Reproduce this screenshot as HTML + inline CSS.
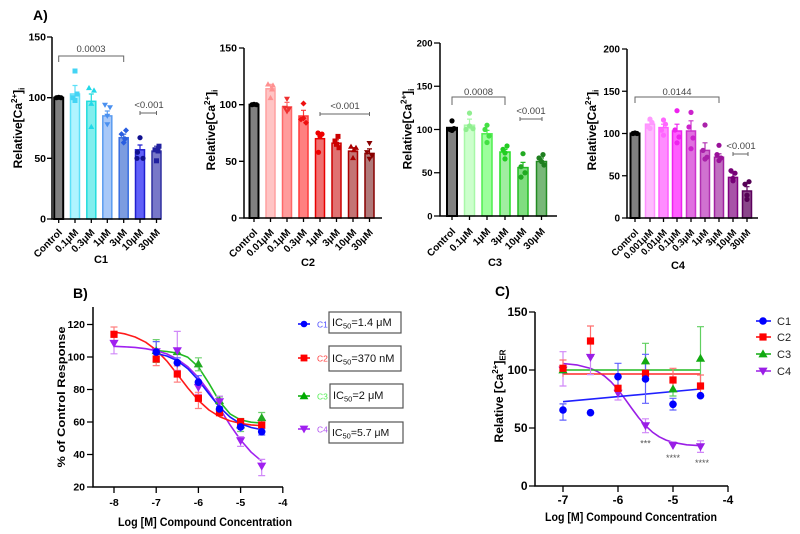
<!DOCTYPE html>
<html><head><meta charset="utf-8"><style>
html,body{margin:0;padding:0;background:#fff;}
svg{display:block;}
text{font-family:"Liberation Sans",Arial,sans-serif;}
.b{font-weight:bold;fill:#000;}
.p{font-size:9.5px;fill:#444;}
.xl{font-weight:bold;font-size:10px;fill:#000;}
.xl4{font-weight:bold;font-size:9.5px;fill:#000;}
</style></head><body>
<svg width="800" height="534" viewBox="0 0 800 534" xmlns="http://www.w3.org/2000/svg" xmlns:xlink="http://www.w3.org/1999/xlink">
<defs>
<circle id="mc" r="3.8"/>
<rect id="ms" x="-3.6" y="-3.6" width="7.2" height="7.2"/>
<path id="mt" d="M0,-4.6L4.6,3.4L-4.6,3.4Z"/>
<path id="md" d="M-4.6,-3.4L4.6,-3.4L0,4.6Z"/>
<circle id="pc" r="2.6"/>
<rect id="ps" x="-2.5" y="-2.5" width="5" height="5"/>
<path id="pt" d="M0,-3L3,2.2L-3,2.2Z"/>
<path id="pd" d="M-3,-2.2L3,-2.2L0,3Z"/>
<path id="pdi" d="M0,-3L3,0L0,3L-3,0Z"/>
</defs>

<!-- ================= PANEL A : C1 ================= -->
<text x="33" y="20" class="b" font-size="14">A)</text>
<g stroke-width="1.5">
<rect x="54.2" y="97.7" width="9" height="121.3" fill="#808080" stroke="#000" stroke-width="2"/>
<rect x="70.5" y="94" width="9" height="125" fill="#b0f4ff" stroke="#5ce0f8"/>
<rect x="86.8" y="101.3" width="9" height="117.7" fill="#80eeee" stroke="#22dcdc"/>
<rect x="102.8" y="115.9" width="9" height="103.1" fill="#a8c8f8" stroke="#5a9cf0"/>
<rect x="119.2" y="137.7" width="9" height="81.3" fill="#7c9ce0" stroke="#3a6ee0"/>
<rect x="135.5" y="149.8" width="9" height="69.2" fill="#6060f8" stroke="#2020d0"/>
<rect x="152" y="151.1" width="9" height="67.9" fill="#7878c8" stroke="#3030a0"/>
</g>
<g stroke-width="1.2" fill="none">
<path d="M75,94V85.5M72.5,85.5H77.5" stroke="#5ce0f8"/>
<path d="M91.3,101.3V94M88.8,94H93.8" stroke="#22dcdc"/>
<path d="M107.3,115.9V111M104.8,111H109.8" stroke="#5a9cf0"/>
<path d="M123.7,137.7V134.1M121.2,134.1H126.2" stroke="#3a6ee0"/>
<path d="M140,149.8V145M137.5,145H142.5" stroke="#2020d0"/>
<path d="M156.5,151.1V146.2M154,146.2H159" stroke="#3030a0"/>
</g>
<g fill="#000"><use xlink:href="#pc" x="56.5" y="97.7"/><use xlink:href="#pc" x="58.7" y="97.3"/><use xlink:href="#pc" x="61" y="97.7"/></g>
<g fill="#44d4f4"><use xlink:href="#ps" x="75" y="71"/><use xlink:href="#ps" x="73" y="97.7"/><use xlink:href="#ps" x="77" y="94"/><use xlink:href="#ps" x="75" y="100.5"/></g>
<g fill="#22d8e8"><use xlink:href="#pt" x="89" y="87.9"/><use xlink:href="#pt" x="94" y="90.4"/><use xlink:href="#pt" x="91.3" y="103.7"/><use xlink:href="#pt" x="91.3" y="126.8"/></g>
<g fill="#4a90f0"><use xlink:href="#pd" x="105" y="104.9"/><use xlink:href="#pd" x="110" y="107.4"/><use xlink:href="#pd" x="107.3" y="115.9"/><use xlink:href="#pd" x="107.3" y="124.4"/></g>
<g fill="#2a5ee0"><use xlink:href="#pdi" x="126" y="130.4"/><use xlink:href="#pdi" x="121.5" y="134.1"/><use xlink:href="#pdi" x="123.7" y="142.6"/><use xlink:href="#pdi" x="125" y="139"/></g>
<g fill="#101090"><use xlink:href="#pc" x="140" y="137.7"/><use xlink:href="#pc" x="137.5" y="152.3"/><use xlink:href="#pc" x="137" y="158.3"/><use xlink:href="#pc" x="143" y="158.3"/></g>
<g fill="#2020a0"><use xlink:href="#ps" x="159" y="146.2"/><use xlink:href="#ps" x="155" y="149.8"/><use xlink:href="#ps" x="156.5" y="160.8"/><use xlink:href="#ps" x="158" y="151"/></g>
<path d="M52,37V219H161" stroke="#000" stroke-width="1.5" fill="none"/>
<path d="M47,37H52M47,97.7H52M47,158.3H52M47,219H52M58.7,219V223M75,219V223M91.3,219V223M107.3,219V223M123.7,219V223M140,219V223M156.5,219V223" stroke="#000" stroke-width="1.3"/>
<g class="b" font-size="10.5" text-anchor="end"><text x="46" y="40.5">150</text><text x="46" y="101.2">100</text><text x="46" y="161.8">50</text><text x="46" y="222.5">0</text></g>
<text transform="translate(22,128) rotate(-90)" text-anchor="middle" class="b" font-size="12">Relative[Ca<tspan font-size="8" dy="-5">2+</tspan><tspan dy="5">]</tspan><tspan font-size="8" dy="2.5">i</tspan></text>
<path d="M58.7,62V56H123.7V62" stroke="#666" fill="none" stroke-width="1"/>
<text x="91" y="52" class="p" text-anchor="middle">0.0003</text>
<text x="149" y="108" class="p" text-anchor="middle">&lt;0.001</text>
<path d="M140,113H156.5M140,111V115M156.5,111V115" stroke="#666" stroke-width="1"/>
<g class="xl" text-anchor="end">
<text transform="translate(62.7,233) rotate(-45)">Control</text>
<text transform="translate(79,233) rotate(-45)">0.1μM</text>
<text transform="translate(95.3,233) rotate(-45)">0.3μM</text>
<text transform="translate(111.3,233) rotate(-45)">1μM</text>
<text transform="translate(127.7,233) rotate(-45)">3μM</text>
<text transform="translate(144,233) rotate(-45)">10μM</text>
<text transform="translate(160.5,233) rotate(-45)">30μM</text>
</g>
<text x="101" y="263" text-anchor="middle" class="b" font-size="11">C1</text>

<!-- ================= PANEL A : C2 ================= -->
<g stroke-width="1.5">
<rect x="249.5" y="104.7" width="9" height="113.3" fill="#808080" stroke="#000" stroke-width="2"/>
<rect x="266" y="88.8" width="9" height="129.2" fill="#ffc4c4" stroke="#ffa0a0"/>
<rect x="282.5" y="106.9" width="9" height="111.1" fill="#ff9c9c" stroke="#ff6868"/>
<rect x="299" y="116" width="9" height="102" fill="#ff8080" stroke="#ff3a3a"/>
<rect x="315.5" y="138.7" width="9" height="79.3" fill="#f07070" stroke="#e80000"/>
<rect x="332" y="143.2" width="9" height="74.8" fill="#e07272" stroke="#cc0000"/>
<rect x="348.5" y="151.1" width="9" height="66.9" fill="#c47474" stroke="#aa0000"/>
<rect x="365" y="153.4" width="9" height="64.6" fill="#b07a7a" stroke="#880000"/>
</g>
<g stroke-width="1.2" fill="none">
<path d="M270.5,88.8V84.3M268,84.3H273" stroke="#ffa0a0"/>
<path d="M287,106.9V102.4M284.5,102.4H289.5" stroke="#ff6868"/>
<path d="M303.5,116V110.3M301,110.3H306" stroke="#ff3a3a"/>
<path d="M320,138.7V135.3M317.5,135.3H322.5" stroke="#e80000"/>
<path d="M336.5,143.2V139.8M334,139.8H339" stroke="#cc0000"/>
<path d="M353,151.1V147.7M350.5,147.7H355.5" stroke="#aa0000"/>
<path d="M369.5,153.4V148.9M367,148.9H372" stroke="#880000"/>
</g>
<g fill="#000"><use xlink:href="#pc" x="252" y="104.7"/><use xlink:href="#pc" x="254" y="104.3"/><use xlink:href="#pc" x="256.5" y="104.7"/></g>
<g fill="#ff9090"><use xlink:href="#pt" x="268" y="84.3"/><use xlink:href="#pt" x="273" y="85.4"/><use xlink:href="#pt" x="270.5" y="97.9"/><use xlink:href="#pt" x="272" y="89.3"/></g>
<g fill="#ee3030"><use xlink:href="#pd" x="287" y="99"/><use xlink:href="#pd" x="285" y="108"/><use xlink:href="#pd" x="289" y="109"/><use xlink:href="#pd" x="287" y="111.5"/></g>
<g fill="#ee1010"><use xlink:href="#pdi" x="303.5" y="103.5"/><use xlink:href="#pdi" x="301" y="119.4"/><use xlink:href="#pdi" x="306" y="122.8"/><use xlink:href="#pdi" x="303.5" y="118.3"/></g>
<g fill="#ee0000"><use xlink:href="#pc" x="318" y="133"/><use xlink:href="#pc" x="322" y="134.1"/><use xlink:href="#pc" x="320" y="136.4"/><use xlink:href="#pc" x="318.5" y="152.3"/></g>
<g fill="#cc0000"><use xlink:href="#ps" x="338" y="136.4"/><use xlink:href="#ps" x="335" y="141"/><use xlink:href="#ps" x="336.5" y="144.3"/><use xlink:href="#ps" x="339" y="147.7"/></g>
<g fill="#aa0000"><use xlink:href="#pt" x="351" y="146.6"/><use xlink:href="#pt" x="356" y="147.7"/><use xlink:href="#pt" x="353" y="157.9"/><use xlink:href="#pt" x="354" y="150"/></g>
<g fill="#880000"><use xlink:href="#pd" x="369.5" y="143.2"/><use xlink:href="#pd" x="367" y="152.3"/><use xlink:href="#pd" x="372" y="155.7"/><use xlink:href="#pd" x="369.5" y="159"/></g>
<path d="M244,48V218H382" stroke="#000" stroke-width="1.5" fill="none"/>
<path d="M239,48H244M239,104.7H244M239,161.3H244M239,218H244M254,218V222M270.5,218V222M287,218V222M303.5,218V222M320,218V222M336.5,218V222M353,218V222M369.5,218V222" stroke="#000" stroke-width="1.3"/>
<g class="b" font-size="10.5" text-anchor="end"><text x="237" y="51.5">150</text><text x="237" y="108.2">100</text><text x="237" y="164.8">50</text><text x="237" y="221.5">0</text></g>
<text transform="translate(215,130) rotate(-90)" text-anchor="middle" class="b" font-size="12">Relative[Ca<tspan font-size="8" dy="-5">2+</tspan><tspan dy="5">]</tspan><tspan font-size="8" dy="2.5">i</tspan></text>
<text x="345" y="109" class="p" text-anchor="middle">&lt;0.001</text>
<path d="M320,114H369.5M320,112V116M369.5,112V116" stroke="#666" stroke-width="1"/>
<g class="xl" text-anchor="end">
<text transform="translate(258,233) rotate(-45)">Control</text>
<text transform="translate(274.5,233) rotate(-45)">0.01μM</text>
<text transform="translate(291,233) rotate(-45)">0.1μM</text>
<text transform="translate(307.5,233) rotate(-45)">0.3μM</text>
<text transform="translate(324,233) rotate(-45)">1μM</text>
<text transform="translate(340.5,233) rotate(-45)">3μM</text>
<text transform="translate(357,233) rotate(-45)">10μM</text>
<text transform="translate(373.5,233) rotate(-45)">30μM</text>
</g>
<text x="308" y="266" text-anchor="middle" class="b" font-size="11">C2</text>

<!-- ================= PANEL A : C3 ================= -->
<g stroke-width="1.5">
<rect x="447" y="127.8" width="10" height="88.2" fill="#808080" stroke="#000" stroke-width="2"/>
<rect x="464.5" y="125.2" width="10" height="90.8" fill="#ccffcc" stroke="#a8f8a8"/>
<rect x="482" y="133.8" width="10" height="82.2" fill="#9cff9c" stroke="#50ee50"/>
<rect x="500" y="152" width="10" height="64" fill="#a0eea0" stroke="#22dd22"/>
<rect x="518" y="167.6" width="10" height="48.4" fill="#80dd80" stroke="#22bb22"/>
<rect x="536.5" y="161.5" width="10" height="54.5" fill="#78b878" stroke="#228b22"/>
</g>
<g stroke-width="1.2" fill="none">
<path d="M469.5,125.2V119.1M467,119.1H472" stroke="#a8f8a8"/>
<path d="M487,133.8V130.4M484.5,130.4H489.5" stroke="#50ee50"/>
<path d="M505,152V149.4M502.5,149.4H507.5" stroke="#22dd22"/>
<path d="M523,167.6V162.4M520.5,162.4H525.5" stroke="#22bb22"/>
<path d="M541.5,161.5V158M539,158H544" stroke="#228b22"/>
</g>
<g fill="#000"><use xlink:href="#pc" x="452" y="120.9"/><use xlink:href="#pc" x="450" y="129.5"/><use xlink:href="#pc" x="454" y="128.6"/><use xlink:href="#pc" x="452" y="130.4"/></g>
<g fill="#90ee90"><use xlink:href="#pc" x="469.5" y="113.1"/><use xlink:href="#pc" x="466" y="129.5"/><use xlink:href="#pc" x="473" y="128.6"/><use xlink:href="#pc" x="469.5" y="126"/></g>
<g fill="#44e044"><use xlink:href="#pc" x="487" y="125.2"/><use xlink:href="#pc" x="485" y="129.5"/><use xlink:href="#pc" x="489" y="136"/><use xlink:href="#pc" x="487" y="142.5"/></g>
<g fill="#22cc22"><use xlink:href="#pc" x="507" y="146"/><use xlink:href="#pc" x="503" y="149.4"/><use xlink:href="#pc" x="505" y="152.9"/><use xlink:href="#pc" x="505" y="158.9"/></g>
<g fill="#22aa22"><use xlink:href="#pc" x="523" y="153.7"/><use xlink:href="#pc" x="521" y="166.7"/><use xlink:href="#pc" x="525" y="172.75"/><use xlink:href="#pc" x="521" y="177.1"/></g>
<g fill="#1f7f1f"><use xlink:href="#pc" x="543" y="154.6"/><use xlink:href="#pc" x="539" y="158"/><use xlink:href="#pc" x="541.5" y="161.5"/><use xlink:href="#pc" x="544" y="165"/></g>
<path d="M440,43V216H557" stroke="#000" stroke-width="1.5" fill="none"/>
<path d="M434,43H440M434,86.25H440M434,129.5H440M434,172.75H440M434,216H440M452,216V220M469.5,216V220M487,216V220M505,216V220M523,216V220M541.5,216V220" stroke="#000" stroke-width="1.3"/>
<g class="b" font-size="9.5" text-anchor="end"><text x="432.5" y="46.5">200</text><text x="432.5" y="89.7">150</text><text x="432.5" y="133">100</text><text x="432.5" y="176.2">50</text><text x="432.5" y="219.5">0</text></g>
<text transform="translate(411.5,129) rotate(-90)" text-anchor="middle" class="b" font-size="12">Relative[Ca<tspan font-size="8" dy="-5">2+</tspan><tspan dy="5">]</tspan><tspan font-size="8" dy="2.5">i</tspan></text>
<path d="M452,105V97H505V105" stroke="#666" fill="none" stroke-width="1"/>
<text x="478.5" y="95" class="p" text-anchor="middle">0.0008</text>
<text x="531" y="114" class="p" text-anchor="middle">&lt;0.001</text>
<path d="M520,119H542M520,117V121M542,117V121" stroke="#666" stroke-width="1"/>
<g class="xl" text-anchor="end">
<text transform="translate(456,232) rotate(-45)">Control</text>
<text transform="translate(473.5,232) rotate(-45)">0.1μM</text>
<text transform="translate(491,232) rotate(-45)">1μM</text>
<text transform="translate(509,232) rotate(-45)">3μM</text>
<text transform="translate(527,232) rotate(-45)">10μM</text>
<text transform="translate(545.5,232) rotate(-45)">30μM</text>
</g>
<text x="495" y="266" text-anchor="middle" class="b" font-size="11">C3</text>

<!-- ================= PANEL A : C4 ================= -->
<g stroke-width="1.5">
<rect x="630.5" y="133.5" width="9" height="84.5" fill="#808080" stroke="#000" stroke-width="2"/>
<rect x="645.5" y="124.2" width="9" height="93.8" fill="#ffbcff" stroke="#ff90ff"/>
<rect x="659" y="127.6" width="9" height="90.4" fill="#ff8cff" stroke="#ff5cff"/>
<rect x="672.5" y="131" width="9" height="87" fill="#ff5cff" stroke="#ee22ee"/>
<rect x="686.5" y="131" width="9" height="87" fill="#e070e0" stroke="#cc33cc"/>
<rect x="700.5" y="150.4" width="9" height="67.6" fill="#d072d0" stroke="#b030b0"/>
<rect x="714.5" y="157.2" width="9" height="60.8" fill="#c070c0" stroke="#a020a0"/>
<rect x="728.5" y="177.4" width="9" height="40.6" fill="#a852a8" stroke="#800080"/>
<rect x="742.5" y="191" width="9" height="27" fill="#8a468a" stroke="#5c005c"/>
</g>
<g stroke-width="1.2" fill="none">
<path d="M650,124.2V120.8M647.5,120.8H652.5" stroke="#ff90ff"/>
<path d="M663.5,127.6V124.2M661,124.2H666" stroke="#ff5cff"/>
<path d="M677,131V124.2M674.5,124.2H679.5" stroke="#ee22ee"/>
<path d="M691,131V120.8M688.5,120.8H693.5" stroke="#cc33cc"/>
<path d="M705,150.4V142.8M702.5,142.8H707.5" stroke="#b030b0"/>
<path d="M719,157.2V153.8M716.5,153.8H721.5" stroke="#a020a0"/>
<path d="M733,177.4V173.2M730.5,173.2H735.5" stroke="#800080"/>
<path d="M747,191V186.7M744.5,186.7H749.5" stroke="#5c005c"/>
</g>
<g fill="#000"><use xlink:href="#pc" x="633" y="133.5"/><use xlink:href="#pc" x="635" y="133"/><use xlink:href="#pc" x="637" y="133.5"/></g>
<g fill="#ff99ff"><use xlink:href="#pc" x="650" y="119.1"/><use xlink:href="#pc" x="652" y="122.5"/><use xlink:href="#pc" x="648" y="126.8"/><use xlink:href="#pc" x="650" y="128.4"/></g>
<g fill="#ff66ff"><use xlink:href="#pc" x="663.5" y="120"/><use xlink:href="#pc" x="665.5" y="124.2"/><use xlink:href="#pc" x="661.5" y="130.1"/><use xlink:href="#pc" x="663.5" y="135.2"/></g>
<g fill="#ee22ee"><use xlink:href="#pc" x="677" y="110.7"/><use xlink:href="#pc" x="675" y="130"/><use xlink:href="#pc" x="679" y="137"/><use xlink:href="#pc" x="677" y="142.8"/></g>
<g fill="#cc22cc"><use xlink:href="#pc" x="691" y="112.4"/><use xlink:href="#pc" x="689" y="127"/><use xlink:href="#pc" x="693" y="138"/><use xlink:href="#pc" x="691" y="148.7"/></g>
<g fill="#aa22aa"><use xlink:href="#pc" x="705" y="125"/><use xlink:href="#pc" x="703" y="150.4"/><use xlink:href="#pc" x="707" y="157.2"/><use xlink:href="#pc" x="705" y="159"/></g>
<g fill="#991199"><use xlink:href="#pc" x="719" y="145.3"/><use xlink:href="#pc" x="717" y="154.6"/><use xlink:href="#pc" x="721" y="158"/><use xlink:href="#pc" x="719" y="160.5"/></g>
<g fill="#770077"><use xlink:href="#pc" x="731" y="170.7"/><use xlink:href="#pc" x="735" y="173.2"/><use xlink:href="#pc" x="733" y="178.3"/><use xlink:href="#pc" x="733" y="180.8"/></g>
<g fill="#550055"><use xlink:href="#pc" x="749" y="181.7"/><use xlink:href="#pc" x="745" y="184.2"/><use xlink:href="#pc" x="747" y="195.2"/><use xlink:href="#pc" x="747" y="199.4"/></g>
<path d="M627,49V218H758" stroke="#000" stroke-width="1.5" fill="none"/>
<path d="M622,49H627M622,91.25H627M622,133.5H627M622,175.75H627M622,218H627M635,218V222M650,218V222M663.5,218V222M677,218V222M691,218V222M705,218V222M719,218V222M733,218V222M747,218V222" stroke="#000" stroke-width="1.3"/>
<g class="b" font-size="10" text-anchor="end"><text x="620" y="52.5">200</text><text x="620" y="94.75">150</text><text x="620" y="137">100</text><text x="620" y="179.25">50</text><text x="620" y="221.5">0</text></g>
<text transform="translate(596,130) rotate(-90)" text-anchor="middle" class="b" font-size="12">Relative[Ca<tspan font-size="8" dy="-5">2+</tspan><tspan dy="5">]</tspan><tspan font-size="8" dy="2.5">i</tspan></text>
<path d="M635,103V97H719V103" stroke="#666" fill="none" stroke-width="1"/>
<text x="677" y="95" class="p" text-anchor="middle">0.0144</text>
<text x="741" y="149" class="p" text-anchor="middle">&lt;0.001</text>
<path d="M733,154H748M733,152V156M748,152V156" stroke="#666" stroke-width="1"/>
<g class="xl4" text-anchor="end">
<text transform="translate(639,233) rotate(-45)">Control</text>
<text transform="translate(654,233) rotate(-45)">0.001μM</text>
<text transform="translate(667.5,233) rotate(-45)">0.01μM</text>
<text transform="translate(681,233) rotate(-45)">0.1μM</text>
<text transform="translate(695,233) rotate(-45)">0.3μM</text>
<text transform="translate(709,233) rotate(-45)">1μM</text>
<text transform="translate(723,233) rotate(-45)">3μM</text>
<text transform="translate(737,233) rotate(-45)">10μM</text>
<text transform="translate(751,233) rotate(-45)">30μM</text>
</g>
<text x="678" y="269" text-anchor="middle" class="b" font-size="11">C4</text>

<!-- ================= PANEL B ================= -->
<text x="73" y="298" class="b" font-size="14">B)</text>
<g fill="none" stroke-width="1.6" stroke-linejoin="round">
<polyline stroke="#22bb22" points="156.2,350.5 166.75,351.5 177.3,353.1 187.85,357.3 198.4,366.9 208.95,383.3 219.5,401.4 230.05,413.9 240.6,419.9 251.15,422.2 261.7,423"/>
<polyline stroke="#a020f0" points="114,346.3 124.55,346.8 135.1,347.4 145.65,348.7 156.2,350.7 166.75,353.9 177.3,359.1 187.85,366.75 198.4,377.5 208.95,391.6 219.5,408 230.05,424.9 240.6,440 251.15,452.2 261.7,461.2"/>
<polyline stroke="#ff1a1a" points="114,332 124.55,333.8 135.1,337 145.65,342.2 156.2,350 166.75,360.9 177.3,374.2 187.85,388 198.4,400.4 208.95,410 219.5,416.6 230.05,420.9 240.6,423.4 251.15,424.9 261.7,425.7"/>
<polyline stroke="#1a1aff" points="156.2,353.4 166.75,356 177.3,360.7 187.85,368.7 198.4,380.2 208.95,393.9 219.5,407.05 230.05,417.1 240.6,423.8 251.15,427.5 261.7,429.6"/>
</g>
<g fill="none" stroke-width="1.2">
<path stroke="#70d070" d="M156.2,339.6V362.4M152.7,339.6H159.7M152.7,362.4H159.7M198.4,357.8V370.8M194.9,357.8H201.9M194.9,370.8H201.9M219.5,396.9V406.6M216,396.9H223M216,406.6H223M240.6,418.5V431.5M237.1,418.5H244.1M237.1,431.5H244.1M261.7,412.5V422.2M258.2,412.5H265.2M258.2,422.2H265.2"/>
<path stroke="#d088f8" d="M114,334.3V353.8M110.5,334.3H117.5M110.5,353.8H117.5M177.3,331.4V370.4M173.8,331.4H180.8M173.8,370.4H180.8M198.4,381.4V394.4M194.9,381.4H201.9M194.9,394.4H201.9M219.5,396.1V412.4M216,396.1H223M216,412.4H223M240.6,436.6V446.4M237.1,436.6H244.1M237.1,446.4H244.1M261.7,459.4V475.6M258.2,459.4H265.2M258.2,475.6H265.2"/>
<path stroke="#ff8080" d="M114,327V341.6M110.5,327H117.5M110.5,341.6H117.5M156.2,352.6V365.6M152.7,352.6H159.7M152.7,365.6H159.7M177.3,365.9V382.1M173.8,365.9H180.8M173.8,382.1H180.8M198.4,392.3V408.5M194.9,392.3H201.9M194.9,408.5H201.9M219.5,409V415.5M240.6,418.5V425M261.7,421.8V428.2"/>
<path stroke="#6060ff" d="M156.2,341.6V361.9M152.7,341.6H159.7M152.7,361.9H159.7M177.3,357.8V367.6M173.8,357.8H180.8M198.4,375.7V388.7M194.9,375.7H201.9M219.5,404.1V413.9M240.6,422.1V431.9M237.1,422.1H244.1M261.7,428.5V435M258.2,428.5H265.2M258.2,435H265.2"/>
</g>
<g fill="#22aa22"><use xlink:href="#mt" x="156.2" y="350.7"/><use xlink:href="#mt" x="177.3" y="351.7"/><use xlink:href="#mt" x="198.4" y="364"/><use xlink:href="#mt" x="219.5" y="400.7"/><use xlink:href="#mt" x="240.6" y="425"/><use xlink:href="#mt" x="261.7" y="417.7"/></g>
<g fill="#a020f0"><use xlink:href="#md" x="114" y="343.3"/><use xlink:href="#md" x="156.2" y="351.7"/><use xlink:href="#md" x="177.3" y="350.7"/><use xlink:href="#md" x="198.4" y="387.3"/><use xlink:href="#md" x="219.5" y="401.7"/><use xlink:href="#md" x="240.6" y="440.7"/><use xlink:href="#md" x="261.7" y="466"/></g>
<g fill="#ff0000"><use xlink:href="#ms" x="114" y="334.3"/><use xlink:href="#ms" x="156.2" y="359"/><use xlink:href="#ms" x="177.3" y="374"/><use xlink:href="#ms" x="198.4" y="398.3"/><use xlink:href="#ms" x="219.5" y="412.7"/><use xlink:href="#ms" x="240.6" y="421.7"/><use xlink:href="#ms" x="261.7" y="425"/></g>
<g fill="#0000ff"><use xlink:href="#mc" x="156.2" y="352.1"/><use xlink:href="#mc" x="177.3" y="362.7"/><use xlink:href="#mc" x="198.4" y="382.2"/><use xlink:href="#mc" x="219.5" y="409"/><use xlink:href="#mc" x="240.6" y="426.9"/><use xlink:href="#mc" x="261.7" y="431.75"/></g>
<path d="M93,307V487H283" stroke="#000" stroke-width="1.5" fill="none"/>
<path d="M87,324.5H93M87,357H93M87,389.5H93M87,422H93M87,454.5H93M87,487H93M114,487V493M156.2,487V493M198.4,487V493M240.6,487V493M282.8,487V493" stroke="#000" stroke-width="1.3"/>
<g class="b" font-size="10.5" text-anchor="end"><text x="85" y="328">120</text><text x="85" y="360.5">100</text><text x="85" y="393">80</text><text x="85" y="425.5">60</text><text x="85" y="458">40</text><text x="85" y="490.5">20</text></g>
<g class="b" font-size="10.5" text-anchor="middle"><text x="114" y="506">-8</text><text x="156.2" y="506">-7</text><text x="198.4" y="506">-6</text><text x="240.6" y="506">-5</text><text x="282.8" y="506">-4</text></g>
<text x="205" y="526" class="b" font-size="11.5" text-anchor="middle" textLength="174" lengthAdjust="spacingAndGlyphs">Log [M] Compound Concentration</text>
<text transform="translate(65,397) rotate(-90)" class="b" font-size="11" text-anchor="middle" textLength="141" lengthAdjust="spacingAndGlyphs">% of Control Response</text>
<!-- legend B -->
<path d="M298,324H310" stroke="#0000ff" stroke-width="1.5"/><circle cx="304" cy="324" r="3.3" fill="#0000ff"/>
<text x="317" y="327.5" font-size="8.5" fill="#5050ff">C1</text>
<rect x="329" y="312" width="72" height="21" fill="#fff" stroke="#555" stroke-width="1.2"/>
<text x="332" y="326" font-size="11" fill="#111">IC<tspan font-size="7.5" dy="2.5">50</tspan><tspan dy="-2.5">=1.4 μM</tspan></text>
<path d="M298,358H310" stroke="#ff0000" stroke-width="1.5"/><rect x="300.6" y="354.6" width="6.8" height="6.8" fill="#ff0000"/>
<text x="317" y="361.5" font-size="8.5" fill="#ff4040">C2</text>
<rect x="329" y="346" width="72" height="25" fill="#fff" stroke="#555" stroke-width="1.2"/>
<text x="332" y="362" font-size="11" fill="#111">IC<tspan font-size="7.5" dy="2.5">50</tspan><tspan dy="-2.5">=370 nM</tspan></text>
<path d="M298,396H310" stroke="#00aa00" stroke-width="1.5"/><path d="M304,391.6L308.4,399.2L299.6,399.2Z" fill="#00aa00"/>
<text x="317" y="399.5" font-size="8.5" fill="#55ee55">C3</text>
<rect x="330" y="384" width="73" height="24" fill="#fff" stroke="#555" stroke-width="1.2"/>
<text x="333" y="399" font-size="11" fill="#111">IC<tspan font-size="7.5" dy="2.5">50</tspan><tspan dy="-2.5">=2 μM</tspan></text>
<path d="M298,429H310" stroke="#a020f0" stroke-width="1.5"/><path d="M299.6,425.6L308.4,425.6L304,433.4Z" fill="#a020f0"/>
<text x="317" y="432.5" font-size="8.5" fill="#b050f0">C4</text>
<rect x="329" y="422" width="74" height="21" fill="#fff" stroke="#555" stroke-width="1.2"/>
<text x="332" y="436" font-size="10.5" fill="#111">IC<tspan font-size="7.5" dy="2.5">50</tspan><tspan dy="-2.5">=5.7 μM</tspan></text>

<!-- ================= PANEL C ================= -->
<text x="495" y="296" class="b" font-size="14">C)</text>
<g fill="none" stroke-width="1.6" stroke-linejoin="round">
<polyline stroke="#9a1ee6" points="563,363.5 576.75,364.9 590.5,368.4 597.4,371.5 604.25,375.9 611.1,381.9 618,389.7 624.9,398.8 631.75,408.4 638.6,417.6 645.5,425.7 652.4,432.1 659.25,436.8 666.1,440.1 673,442.4 686.75,444.8 700.5,445.7"/>
<path stroke="#22bb22" d="M563,370H700.5"/>
<path stroke="#ff2a2a" d="M563,374H700.5"/>
<path stroke="#2020ff" d="M563,401.7L700.5,389"/>
</g>
<g fill="none" stroke-width="1.2">
<path stroke="#d088f8" d="M563,351.7V386M559.5,351.7H566.5M559.5,386H566.5M590.5,340V374.6M587,340H594M587,374.6H594M618,386V400M614.5,386H621.5M614.5,400H621.5M645.5,418.8V432.7M642,418.8H649M642,432.7H649M673,441.9V448.9M669.5,441.9H676.5M700.5,440.8V452.4M697,440.8H704M697,452.4H704"/>
<path stroke="#60d060" d="M645.5,343.3V378.7M642,343.3H649M673,382V396M669.5,382H676.5M669.5,396H676.5M700.5,326.7V389.9M697,326.7H704"/>
<path stroke="#ff7070" d="M563,360V376.7M559.5,360H566.5M590.5,326V356M587,326H594M587,356H594M618,383.6V393M673,368.3V391.7M669.5,368.3H676.5M700.5,375V397M697,375H704"/>
<path stroke="#6060ff" d="M563,403.9V420.1M559.5,420.1H566.5M559.5,403.9H566.5M618,363.3V390M614.5,363.3H621.5M645.5,354.3V403.3M642,354.3H649M642,403.3H649M673,398.3V410M669.5,398.3H676.5M669.5,410H676.5"/>
</g>
<g fill="#9a1ee6"><use xlink:href="#md" x="563" y="370"/><use xlink:href="#md" x="590.5" y="357.3"/><use xlink:href="#md" x="618" y="393.2"/><use xlink:href="#md" x="645.5" y="425.7"/><use xlink:href="#md" x="673" y="445.4"/><use xlink:href="#md" x="700.5" y="446.6"/></g>
<g fill="#11aa11"><use xlink:href="#mt" x="563" y="370"/><use xlink:href="#mt" x="645.5" y="361"/><use xlink:href="#mt" x="673" y="389"/><use xlink:href="#mt" x="700.5" y="358.3"/></g>
<g fill="#ff0000"><use xlink:href="#ms" x="563" y="368.3"/><use xlink:href="#ms" x="590.5" y="341"/><use xlink:href="#ms" x="618" y="388.3"/><use xlink:href="#ms" x="645.5" y="373.3"/><use xlink:href="#ms" x="673" y="380"/><use xlink:href="#ms" x="700.5" y="386"/></g>
<g fill="#0000ff"><use xlink:href="#mc" x="563" y="410"/><use xlink:href="#mc" x="590.5" y="412.7"/><use xlink:href="#mc" x="618" y="376.7"/><use xlink:href="#mc" x="645.5" y="379"/><use xlink:href="#mc" x="673" y="404.3"/><use xlink:href="#mc" x="700.5" y="395.7"/></g>
<g font-size="9" fill="#555" text-anchor="middle"><text x="645.5" y="446.5">***</text><text x="673" y="461">****</text><text x="702" y="466">****</text></g>
<path d="M535,312V486H728" stroke="#000" stroke-width="1.5" fill="none"/>
<path d="M529,312H535M529,370H535M529,428H535M529,486H535M563,486V492M618,486V492M673,486V492M728,486V492" stroke="#000" stroke-width="1.3"/>
<g class="b" font-size="12" text-anchor="end"><text x="527.5" y="316">150</text><text x="527.5" y="374">100</text><text x="527.5" y="432">50</text><text x="527.5" y="490">0</text></g>
<g class="b" font-size="12" text-anchor="middle"><text x="563" y="504">-7</text><text x="618" y="504">-6</text><text x="673" y="504">-5</text><text x="728" y="504">-4</text></g>
<text x="631" y="521" class="b" font-size="11.5" text-anchor="middle" textLength="172" lengthAdjust="spacingAndGlyphs">Log [M] Compound Concentration</text>
<text transform="translate(503,396) rotate(-90)" class="b" font-size="12" text-anchor="middle">Relative [Ca<tspan font-size="8" dy="-5">2+</tspan><tspan dy="5">]</tspan><tspan font-size="8" dy="2.5">ER</tspan></text>
<!-- legend C -->
<path d="M756,321H771" stroke="#0000ff" stroke-width="1.5"/><use xlink:href="#mc" x="763" y="321" fill="#0000ff"/>
<text x="777" y="325" font-size="11" fill="#222">C1</text>
<path d="M756,337H771" stroke="#ff0000" stroke-width="1.5"/><use xlink:href="#ms" x="763" y="337" fill="#ff0000"/>
<text x="777" y="341" font-size="11" fill="#222">C2</text>
<path d="M756,354H771" stroke="#11aa11" stroke-width="1.5"/><use xlink:href="#mt" x="763" y="354" fill="#11aa11"/>
<text x="777" y="358" font-size="11" fill="#222">C3</text>
<path d="M756,371H771" stroke="#9a1ee6" stroke-width="1.5"/><use xlink:href="#md" x="763" y="371" fill="#9a1ee6"/>
<text x="777" y="375" font-size="11" fill="#222">C4</text>
</svg>
</body></html>
